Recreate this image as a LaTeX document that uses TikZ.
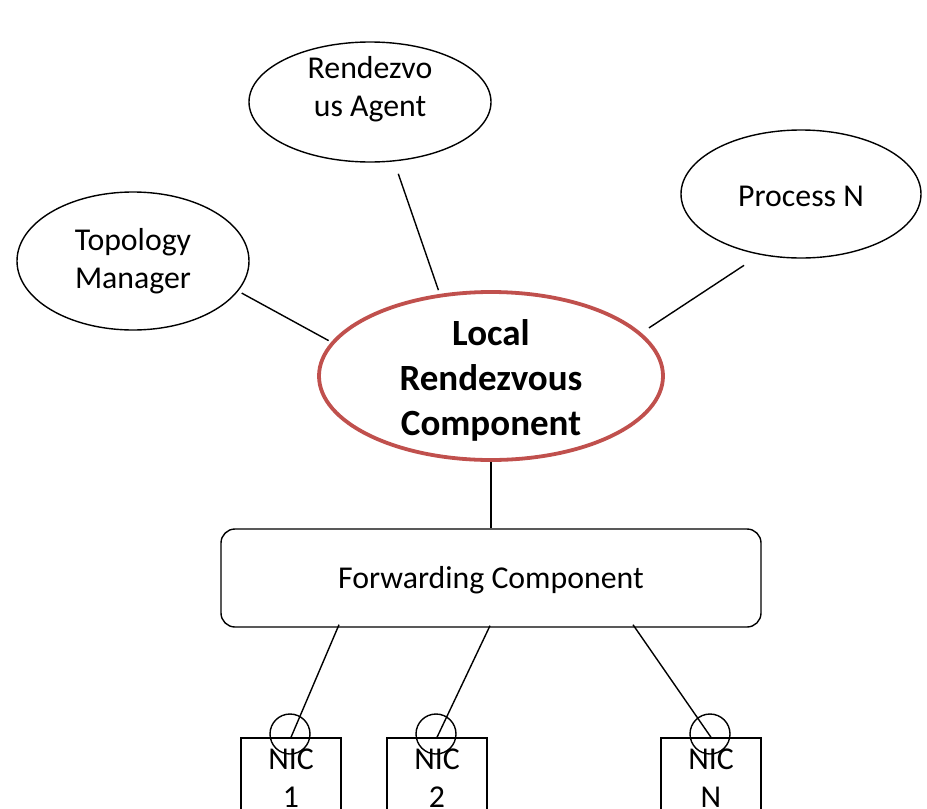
\documentclass[tikz,border=0pt]{standalone}
\usepackage{fontspec}
\setmainfont{Carlito}
\usetikzlibrary{shapes.geometric}
\definecolor{accentred}{RGB}{192,80,77}
\begin{document}
\begin{tikzpicture}[x=1pt,y=-1pt,
  bubble/.style={ellipse, draw, line width=1.4pt, inner sep=0pt},
  txt/.style={font=\fontsize{31.8}{38}\selectfont, align=center, inner sep=0pt},
  hub/.style={ellipse, draw=accentred, line width=3.8pt, inner sep=0pt},
  hubtxt/.style={font=\fontsize{37}{45}\selectfont\bfseries, align=center, inner sep=0pt},
  fwd/.style={draw, line width=1.4pt, rounded corners=14pt, inner sep=0pt},
  nicbox/.style={draw, line width=1.4pt, inner sep=0pt, minimum width=100pt, minimum height=110pt},
  port/.style={circle, draw, line width=1.4pt, inner sep=0pt, minimum size=40pt},
  link/.style={draw, line width=1.4pt}
]
\useasboundingbox (0,0) rectangle (927,809);
\clip (0,0) rectangle (927,809);

% application-side components
\node[bubble, minimum width=242pt, minimum height=120pt] (ra) at (370,102) {};
\node[txt] (ratxt) at (370,89) {Rendezvo\\us Agent};
\node[bubble, minimum width=232pt, minimum height=138pt] (tm) at (133,261) {};
\node[txt] (tmtxt) at (133,261) {Topology\\Manager};
\node[bubble, minimum width=240pt, minimum height=128pt] (pn) at (801,194) {};
\node[txt] (pntxt) at (801,196) {Process N};

% central rendezvous component
\node[hub, minimum width=344pt, minimum height=168pt] (lrc) at (491,376) {};
\node[hubtxt] (lrctxt) at (491,380) {Local\\Rendezvous\\Component};

% forwarding layer
\node[fwd, minimum width=540pt, minimum height=98pt] (fc) at (491,578) {};
\node[txt] (fctxt) at (491,580) {Forwarding Component};

% network interfaces
\node[nicbox] (nic1) at (291,793) {};
\node[nicbox] (nic2) at (437,793) {};
\node[nicbox] (nicn) at (711,793) {};
\node[port] (p1) at (290,734) {};
\node[port] (p2) at (436,734) {};
\node[port] (pn2) at (710,734) {};
\node[txt] (nic1txt) at (291,778) {NIC\\1};
\node[txt] (nic2txt) at (437,778) {NIC\\2};
\node[txt] (nicntxt) at (711,778) {NIC\\N};

% connections
\draw[link, shorten <=13pt, shorten >=4pt] (ra.-68) -- (lrc.122);
\draw[link, shorten <=4pt, shorten >=3pt] (tm.-16) -- (lrc.168);
\draw[link, shorten <=19pt, shorten >=9pt] (pn.236) -- (lrc.16);
\draw[link] (lrc.south) -- (fc.north);
\draw[link] ([xshift=-152pt,yshift=3pt]fc.south) -- (nic1.north);
\draw[link] ([xshift=-1pt,yshift=2pt]fc.south) -- (nic2.north);
\draw[link] ([xshift=142pt,yshift=3pt]fc.south) -- (nicn.north);
\end{tikzpicture}
\end{document}
